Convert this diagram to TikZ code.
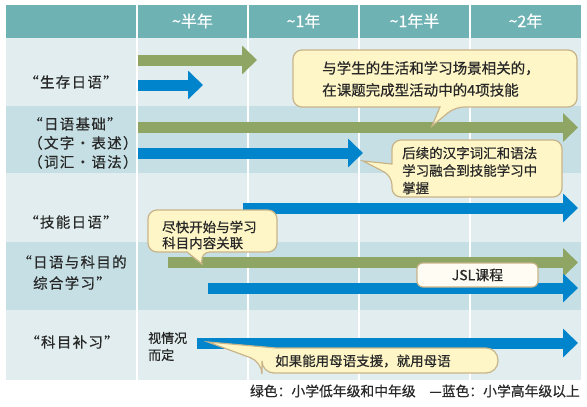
\documentclass[tikz,border=0pt]{standalone}
\usepackage{fontspec}
\setmainfont{Noto Sans CJK SC}[FakeBold=0.6]
\newfontfamily\labelfont{Noto Sans CJK SC}[FakeBold=0.6,LetterSpace=9]
\usepackage{xcolor}
\usepackage{tikz}
\usetikzlibrary{arrows.meta,positioning}
\definecolor{tlTeal}{RGB}{111,178,180}
\definecolor{tlRowLight}{RGB}{225,237,238}
\definecolor{tlRowDark}{RGB}{197,223,228}
\definecolor{tlGreen}{RGB}{143,165,100}
\definecolor{tlBlue}{RGB}{0,133,204}
\definecolor{tlNoteFill}{RGB}{254,246,198}
\definecolor{tlNoteEdge}{RGB}{201,180,138}
\definecolor{tlBoxFill}{RGB}{255,253,243}
\definecolor{tlText}{RGB}{40,40,40}

\tikzset{
  bar/.style={line width=11pt, -{Triangle[length=15pt,width=28pt]}},
  note/.style={fill=tlNoteFill, draw=tlNoteEdge, line width=1.2pt, rounded corners=9pt},
  notetext/.style={text=tlText, align=left, inner sep=0pt},
  rowlabel/.style={text=tlText, align=center, inner sep=0pt},
  hdr/.style={text=white, font=\fontsize{16}{18}\selectfont, inner sep=0pt},
}

\begin{document}
\begin{tikzpicture}[x=1pt,y=-1pt]
    \useasboundingbox (0,0) rectangle (587,407);
    \fill[white] (0,0) rectangle (587,407);

    % rows and header
    \fill[tlRowLight] (6,38) rectangle (581,106);
    \fill[tlRowDark]  (6,106) rectangle (581,173);
    \fill[tlRowLight] (6,173) rectangle (581,242);
    \fill[tlRowDark]  (6,242) rectangle (581,310);
    \fill[tlRowLight] (6,310) rectangle (581,380);
    \fill[tlTeal] (6,5) rectangle (581,38);
    \foreach \cx in {137,248,359,470}
        \draw[white, line width=1.5pt] (\cx,5) -- (\cx,380);

    % header labels
    \node[hdr] (halfyear)  at (192.5,21) {\textasciitilde 半年};
    \node[hdr] (oneyear)   at (303.5,21) {\textasciitilde 1年};
    \node[hdr] (onehalf)   at (414.5,21) {\textasciitilde 1年半};
    \node[hdr] (twoyears)  at (525.5,21) {\textasciitilde 2年};

    % row labels
    \node[rowlabel, font=\labelfont\fontsize{14.5}{19}\selectfont] (survival) at (71,82) {“生存日语”};
    \node[rowlabel, align=left, anchor=west, font=\labelfont\fontsize{14.5}{19}\selectfont] (basics) at (28,143)
        {“日语基础”\\（文字・表述）\\（词汇・语法）};
    \node[rowlabel, font=\labelfont\fontsize{14.5}{19}\selectfont] (skills) at (71,222) {“技能日语”};
    \node[rowlabel, font=\labelfont\fontsize{14.5}{21}\selectfont] (subjects) at (72,272.5) {“日语与科目的\\综合学习”};
    \node[rowlabel, font=\labelfont\fontsize{14.5}{19}\selectfont] (support) at (72,342) {“科目补习”};

    % bars
    \draw[bar, tlGreen] (138,60) -- (257,60);
    \draw[bar, tlBlue]  (138,85) -- (203,85);
    \draw[bar, tlGreen] (138,127.5) -- (578,127.5);
    \draw[bar, tlBlue]  (138,153) -- (363,153);
    \draw[bar, tlBlue]  (243,208) -- (578,208);
    \draw[bar, tlGreen] (168,262.5) -- (578,262.5);
    \draw[bar, tlBlue]  (208,288) -- (578,288);
    \draw[bar, tlBlue]  (197,343) -- (578,343);

    % callouts
    \draw[note] (435,50) -- (577,50) -- (577,107) -- (455,107)
        [sharp corners] -- (432,126) -- (440,107)
        [rounded corners=9pt] -- (293,107) -- (293,50) -- cycle;
    \node[notetext, anchor=west, font=\fontsize{14.5}{22}\selectfont] (noteskills) at (322,79)
        {与学生的生活和学习场景相关的，\\在课题完成型活动中的4项技能};

    \draw[note] (477,140) -- (562,140) -- (562,197) -- (392,197) -- (392,176)
        [sharp corners] -- (363,161) -- (392,164)
        [rounded corners=9pt] -- (392,140) -- cycle;
    \node[notetext, anchor=west, font=\fontsize{13.5}{17.5}\selectfont] (notekanji) at (402,170.5)
        {后续的汉字词汇和语法\\学习融合到技能学习中\\掌握};

    \draw[note] (212,210) -- (277,210) -- (277,252) -- (201,252)
        [sharp corners] -- (202,264) -- (187,252)
        [rounded corners=9pt] -- (148,252) -- (148,210) -- cycle;
    \node[notetext, anchor=west, font=\fontsize{13.5}{16}\selectfont] (notesoon) at (162,235)
        {尽快开始与学习\\科目内容关联};

    \node[draw=tlNoteEdge, fill=tlBoxFill, line width=1.2pt, rounded corners=6pt,
          minimum width=121pt, minimum height=24pt, text=tlText,
          font=\fontsize{14}{16}\selectfont] (jsl) at (477.5,275) {JSL课程};

    \draw[note, rounded corners=12pt] (380,348) -- (498,348) -- (498,373) -- (262,373) -- (262,362)
        [sharp corners] -- (208,342) -- (276,348)
        [rounded corners=12pt] -- cycle;
    \node[notetext, anchor=west, font=\fontsize{13.5}{16}\selectfont] (notemother) at (275,361)
        {如果能用母语支援，就用母语};

    \node[notetext, anchor=west, font=\fontsize{13}{17}\selectfont] (depends) at (148,346.5)
        {视情况\\而定};

    % legend
    \node[text=tlText, anchor=east, inner sep=0pt, font=\fontsize{13.8}{16}\selectfont] (legend) at (580,391)
        {绿色：小学低年级和中年级　—蓝色：小学高年级以上};
\end{tikzpicture}
\end{document}
